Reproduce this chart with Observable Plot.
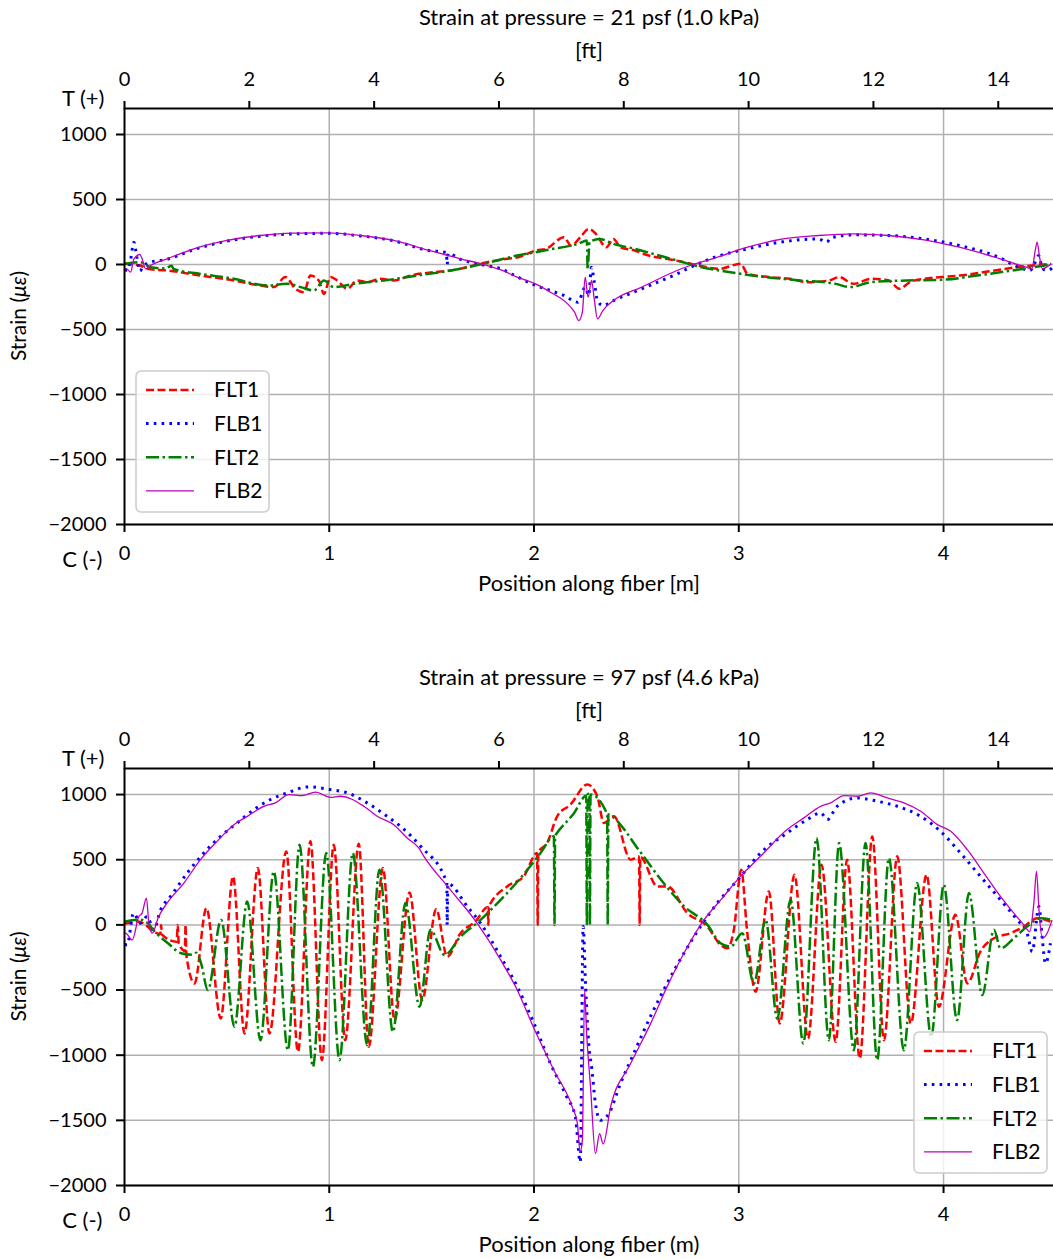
<!DOCTYPE html>
<html><head><meta charset="utf-8">
<script src="https://cdn.jsdelivr.net/npm/d3@7"></script>
<script src="https://cdn.jsdelivr.net/npm/@observablehq/plot@0.6"></script>
<style>
body{margin:0;background:#fff;}
#chart{width:1053px;}
#chart svg{display:block;}
</style></head><body><div id="chart"></div>
<script>
// ---------- labels & ticks ----------
const seriesNames = ["FLT1", "FLB1", "FLT2", "FLB2"];
const panelTitles = ["Strain at pressure = 21 psf (1.0 kPa)", "Strain at pressure = 97 psf (4.6 kPa)"];
const xLabels = ["Position along fiber [m]", "Position along fiber (m)"];
const ftLabel = "[ft]";
const yTicks = [-2000, -1500, -1000, -500, 0, 500, 1000];
const xTicksM = [0, 1, 2, 3, 4];
const ftTicks = [0, 2, 4, 6, 8, 10, 12, 14];

// ---------- panel 1 data (21 psf) : [position m, strain] ----------
const p1_FLT1 = [[0,5],[0.05,0],[0.078,-8],[0.11,-33],[0.208,-46],[0.371,-85],[0.534,-123],[0.664,-162],[0.73,-174],[0.786,-97],[0.835,-187],[0.876,-213],[0.908,-85],[0.949,-123],[0.974,-226],[1.006,-97],[1.039,-123],[1.088,-187],[1.136,-123],[1.185,-136],[1.25,-110],[1.315,-123],[1.396,-85],[1.51,-59],[1.592,-46],[1.673,-21],[1.771,18],[1.869,44],[1.923,56],[2.009,108],[2.06,121],[2.146,210],[2.181,146],[2.233,223],[2.267,274],[2.302,236],[2.353,133],[2.388,197],[2.422,133],[2.491,108],[2.56,69],[2.646,44],[2.733,18],[2.802,-8],[2.905,-33],[3.009,5],[3.043,-72],[3.147,-97],[3.25,-110],[3.336,-136],[3.44,-123],[3.491,-97],[3.56,-149],[3.646,-110],[3.733,-123],[3.784,-187],[3.836,-136],[3.905,-110],[3.991,-97],[4.077,-85],[4.25,-46],[4.388,-15],[4.526,5]];
const p1_FLB1 = [[0,-40],[0.013,-46],[0.03,40],[0.046,172],[0.06,60],[0.075,-51],[0.09,-20],[0.11,10],[0.13,20],[0.208,40],[0.339,115],[0.501,180],[0.664,218],[0.827,236],[0.99,240],[1.153,220],[1.315,182],[1.478,110],[1.572,92],[1.576,0],[1.58,85],[1.641,40],[1.755,-5],[1.836,-33],[1.918,-95],[2.009,-162],[2.08,-200],[2.146,-238],[2.215,-290],[2.25,-174],[2.267,-238],[2.281,-21],[2.293,-123],[2.31,-277],[2.336,-315],[2.388,-277],[2.526,-187],[2.698,-72],[2.793,0],[2.871,50],[3.043,121],[3.216,175],[3.388,197],[3.43,172],[3.45,205],[3.561,228],[3.733,223],[3.905,197],[4.077,146],[4.25,69],[4.388,-33],[4.422,-46],[4.445,10],[4.465,69],[4.483,-33],[4.509,-46],[4.535,-21]];
const p1_FLT2 = [[0,5],[0.078,18],[0.127,-21],[0.2,-30],[0.23,-10],[0.24,-35],[0.371,-72],[0.534,-110],[0.697,-162],[0.795,-149],[0.86,-174],[0.925,-200],[0.974,-123],[1.022,-174],[1.12,-149],[1.267,-123],[1.43,-85],[1.592,-46],[1.755,5],[1.918,69],[2.009,95],[2.095,121],[2.181,146],[2.215,159],[2.258,185],[2.262,-40],[2.271,172],[2.319,197],[2.388,159],[2.491,121],[2.611,69],[2.698,31],[2.784,-8],[2.905,-46],[3.009,-72],[3.13,-97],[3.302,-123],[3.474,-149],[3.543,-174],[3.646,-136],[3.819,-123],[3.991,-118],[4.163,-85],[4.336,-46],[4.526,0]];
const p1_FLB2 = [[0,-30],[0.01,-33],[0.03,-59],[0.046,44],[0.075,77],[0.086,44],[0.103,-33],[0.127,-8],[0.208,44],[0.339,121],[0.501,185],[0.664,223],[0.827,241],[0.99,244],[1.153,223],[1.315,185],[1.478,113],[1.641,44],[1.755,0],[1.836,-40],[1.918,-97],[2.007,-149],[2.08,-213],[2.164,-303],[2.198,-367],[2.219,-431],[2.236,-367],[2.25,-97],[2.264,-251],[2.281,-123],[2.293,-251],[2.31,-418],[2.336,-354],[2.388,-277],[2.526,-174],[2.698,-46],[2.776,0],[2.871,44],[3.043,133],[3.216,197],[3.388,223],[3.561,236],[3.733,223],[3.905,190],[4.077,133],[4.25,56],[4.405,-21],[4.431,-33],[4.448,108],[4.457,172],[4.469,56],[4.483,-33],[4.526,5]];

// ---------- panel 2 data (97 psf) ----------
const p2_FLT1 = [[0,8],[0.065,26],[0.1,5],[0.13,-38],[0.175,-70],[0.179,0],[0.183,-75],[0.255,-130],[0.26,0],[0.265,-140],[0.295,-200],[0.298,0],[0.302,-230],[0.342,-450],[0.40,128],[0.47,-718],[0.53,372],[0.586,-833],[0.651,436],[0.708,-833],[0.79,564],[0.847,-974],[0.908,641],[0.964,-1038],[1.022,615],[1.078,-885],[1.144,623],[1.193,-936],[1.262,436],[1.319,-731],[1.392,249],[1.454,-577],[1.522,120],[1.576,-244],[1.641,-64],[1.714,26],[1.774,135],[1.777,0],[1.780,141],[1.869,295],[1.95,372],[2.015,551],[2.018,0],[2.021,556],[2.064,628],[2.113,833],[2.178,923],[2.26,1077],[2.309,987],[2.341,782],[2.39,833],[2.472,500],[2.513,525],[2.516,0],[2.519,520],[2.602,295],[2.651,295],[2.749,90],[2.847,-13],[2.911,-154],[2.944,-180],[2.976,-38],[3.012,423],[3.04,-38],[3.082,-513],[3.147,256],[3.20,-756],[3.272,385],[3.338,-872],[3.404,462],[3.473,-897],[3.529,500],[3.591,-1026],[3.652,679],[3.709,-885],[3.774,526],[3.84,-756],[3.917,385],[3.977,-628],[4.058,77],[4.116,-449],[4.18,-205],[4.246,-103],[4.327,-64],[4.392,-13],[4.457,51],[4.522,26]];
const p2_FLB1 = [[0,-150],[0.013,-154],[0.044,90],[0.078,13],[0.11,64],[0.143,-38],[0.176,115],[0.225,218],[0.306,397],[0.387,551],[0.469,679],[0.55,782],[0.632,885],[0.713,962],[0.795,1013],[0.9,1059],[1.006,1038],[1.088,1013],[1.185,936],[1.283,833],[1.348,756],[1.446,603],[1.574,325],[1.576,0],[1.579,315],[1.674,141],[1.739,13],[1.837,-244],[1.918,-474],[2.0,-756],[2.08,-1064],[2.16,-1320],[2.202,-1474],[2.226,-1820],[2.24,-13],[2.252,-474],[2.267,-910],[2.283,-1115],[2.3,-1372],[2.324,-1500],[2.365,-1449],[2.422,-1218],[2.487,-987],[2.568,-705],[2.65,-449],[2.732,-218],[2.813,-13],[2.895,167],[3.01,372],[3.106,551],[3.236,705],[3.334,808],[3.4,859],[3.432,808],[3.48,910],[3.578,974],[3.676,949],[3.774,910],[3.888,833],[3.985,718],[4.083,551],[4.18,372],[4.278,192],[4.36,38],[4.408,-64],[4.433,-205],[4.466,141],[4.482,-103],[4.498,-295],[4.522,-141]];
const p2_FLT2 = [[0,25],[0.05,38],[0.08,40],[0.114,13],[0.147,-51],[0.212,-141],[0.277,-218],[0.33,-230],[0.35,-213],[0.374,-295],[0.407,-500],[0.472,38],[0.537,-782],[0.599,179],[0.664,-885],[0.729,410],[0.798,-962],[0.855,615],[0.92,-1090],[0.985,551],[1.05,-1038],[1.115,551],[1.185,-923],[1.245,423],[1.311,-821],[1.372,167],[1.441,-628],[1.494,-38],[1.563,-231],[1.641,-90],[1.739,38],[1.837,192],[1.934,359],[2.032,551],[2.097,680],[2.100,0],[2.103,685],[2.106,692],[2.196,859],[2.255,990],[2.258,0],[2.262,1000],[2.27,1008],[2.273,0],[2.276,1000],[2.357,850],[2.360,0],[2.363,848],[2.366,846],[2.523,551],[2.62,346],[2.734,141],[2.847,0],[2.911,-141],[2.96,-167],[3.017,-64],[3.074,-449],[3.131,38],[3.188,-718],[3.253,192],[3.315,-910],[3.38,667],[3.44,-885],[3.49,628],[3.562,-962],[3.619,628],[3.676,-1038],[3.733,513],[3.806,-962],[3.871,321],[3.94,-859],[4.001,308],[4.066,-731],[4.124,244],[4.189,-538],[4.246,-38],[4.278,-180],[4.343,-103],[4.408,-13],[4.473,51],[4.53,38]];
const p2_FLB2 = [[0,-64],[0.005,-64],[0.038,-115],[0.07,64],[0.086,90],[0.107,205],[0.119,13],[0.135,-64],[0.167,64],[0.208,167],[0.29,321],[0.371,500],[0.452,641],[0.534,769],[0.6,833],[0.68,910],[0.737,936],[0.803,1000],[0.868,992],[0.933,1018],[1.006,979],[1.055,987],[1.169,910],[1.234,833],[1.315,769],[1.38,667],[1.437,590],[1.462,526],[1.592,269],[1.722,13],[1.837,-269],[1.918,-500],[2.0,-795],[2.097,-1115],[2.187,-1397],[2.212,-1525],[2.225,-1744],[2.236,-1654],[2.247,-500],[2.257,-833],[2.276,-1244],[2.3,-1756],[2.32,-1603],[2.338,-1680],[2.374,-1397],[2.472,-1064],[2.57,-756],[2.65,-474],[2.732,-218],[2.83,38],[2.912,192],[3.008,372],[3.106,526],[3.236,731],[3.318,821],[3.4,910],[3.449,936],[3.514,992],[3.579,987],[3.644,1013],[3.725,974],[3.807,936],[3.888,872],[3.97,769],[4.035,718],[4.116,577],[4.197,397],[4.278,218],[4.343,90],[4.392,0],[4.421,-51],[4.441,167],[4.454,410],[4.466,115],[4.482,-103],[4.506,-64],[4.53,38]];

const panels = [
  {FLT1: p1_FLT1, FLB1: p1_FLB1, FLT2: p1_FLT2, FLB2: p1_FLB2},
  {FLT1: p2_FLT1, FLB1: p2_FLB1, FLT2: p2_FLT2, FLB2: p2_FLB2}
];

const lineStyle = {
  FLT1: {stroke: "#ff0000", strokeWidth: 2.5, strokeDasharray: "8,3.5"},
  FLB1: {stroke: "#0000ff", strokeWidth: 3, strokeDasharray: "2.6,5.2"},
  FLT2: {stroke: "#008000", strokeWidth: 2.5, strokeDasharray: "13,3.5,2.5,3.5"},
  FLB2: {stroke: "#bf00bf", strokeWidth: 1.3, strokeDasharray: null}
};

const FT = 0.3048;
const FONT = "Lato, 'Open Sans', sans-serif";
const LABEL_SIZE = 22;
const geo = [
  {height: 660, marginBottom: 136, legend: {x: 136, y: 371}},
  {height: 599, marginBottom: 74, legend: {x: 914, y: 372}}
];

function makePanel(i) {
  const d = panels[i];
  const g = geo[i];
  const txt = (s, o) => Plot.text([s], {text: t => t, lineAnchor: "middle", fontSize: LABEL_SIZE, ...o});
  const marks = [
    Plot.gridX(xTicksM.slice(1), {stroke: "#b0b0b0", strokeOpacity: 1, strokeWidth: 1.5}),
    Plot.gridY(yTicks, {stroke: "#b0b0b0", strokeOpacity: 1, strokeWidth: 1.5}),
    ...seriesNames.map(n => Plot.line(d[n], {
      x: p => p[0], y: p => p[1], curve: "monotone-x", clip: true,
      stroke: lineStyle[n].stroke, strokeWidth: lineStyle[n].strokeWidth,
      strokeDasharray: lineStyle[n].strokeDasharray, strokeLinecap: "butt", strokeLinejoin: "round"
    })),
    Plot.ruleX([0], {stroke: "black", strokeWidth: 2}),
    Plot.ruleY([-2000], {stroke: "black", strokeWidth: 2}),
    Plot.ruleY([1200], {stroke: "black", strokeWidth: 2}),
    Plot.axisY({ticks: yTicks, tickSize: 8, tickPadding: 10, strokeWidth: 2, label: null, tickFormat: v => v < 0 ? "\u2212" + Math.abs(v) : String(v)}),
    Plot.axisX({ticks: xTicksM, anchor: "bottom", tickSize: 8, tickPadding: 13, strokeWidth: 2, label: null, tickFormat: v => String(v)}),
    Plot.axisX({ticks: ftTicks.map(f => f * FT), anchor: "top", tickSize: 8, tickPadding: 15, strokeWidth: 2, label: null, tickFormat: v => String(Math.round(v / FT))}),
    txt(panelTitles[i], {frameAnchor: "top", dy: -91}),
    txt(ftLabel, {frameAnchor: "top", dy: -58}),
    txt(xLabels[i], {frameAnchor: "bottom", dy: 59}),
    txt("T (+)", {frameAnchor: "top-left", dx: -20, dy: -10, textAnchor: "end"}),
    txt("C (-)", {frameAnchor: "bottom-left", dx: -22, dy: 35, textAnchor: "end"})
  ];
  const svg = Plot.plot({
    width: 1053, height: g.height,
    marginLeft: 124, marginRight: 0, marginTop: 108, marginBottom: g.marginBottom,
    style: {fontFamily: FONT, fontSize: "20px", color: "black", background: "white", overflow: "visible"},
    x: {domain: [0, 4.537]},
    y: {domain: [-2000, 1200]},
    marks
  });
  const s = d3.select(svg);
  // y-axis title with italic micro-epsilon
  const yl = s.append("text")
    .attr("transform", `translate(21,${108 + (g.height - 108 - g.marginBottom) / 2}) rotate(-90)`)
    .attr("text-anchor", "middle").attr("dominant-baseline", "middle")
    .attr("font-family", FONT).attr("font-size", 21).attr("fill", "black");
  yl.append("tspan").text("Strain (");
  yl.append("tspan").attr("font-style", "italic").text("\u03bc\u03b5");
  yl.append("tspan").text(")");
  // legend
  const L = g.legend;
  const lg = s.append("g");
  lg.append("rect").attr("x", L.x).attr("y", L.y).attr("width", 133).attr("height", 141)
    .attr("rx", 5).attr("fill", "white").attr("fill-opacity", 0.8)
    .attr("stroke", "#cccccc").attr("stroke-width", 1.5);
  seriesNames.forEach((n, k) => {
    const yy = L.y + 19 + k * 33.6;
    lg.append("line").attr("x1", L.x + 10).attr("x2", L.x + 58).attr("y1", yy).attr("y2", yy)
      .attr("stroke", lineStyle[n].stroke).attr("stroke-width", lineStyle[n].strokeWidth)
      .attr("stroke-dasharray", lineStyle[n].strokeDasharray);
    lg.append("text").attr("x", L.x + 78).attr("y", yy).attr("dy", "0.35em")
      .attr("text-anchor", "start")
      .attr("font-family", FONT).attr("font-size", 21).attr("fill", "black").text(n);
  });
  return svg;
}

const root = document.getElementById("chart");
root.appendChild(makePanel(0));
root.appendChild(makePanel(1));
</script>
</body></html>
